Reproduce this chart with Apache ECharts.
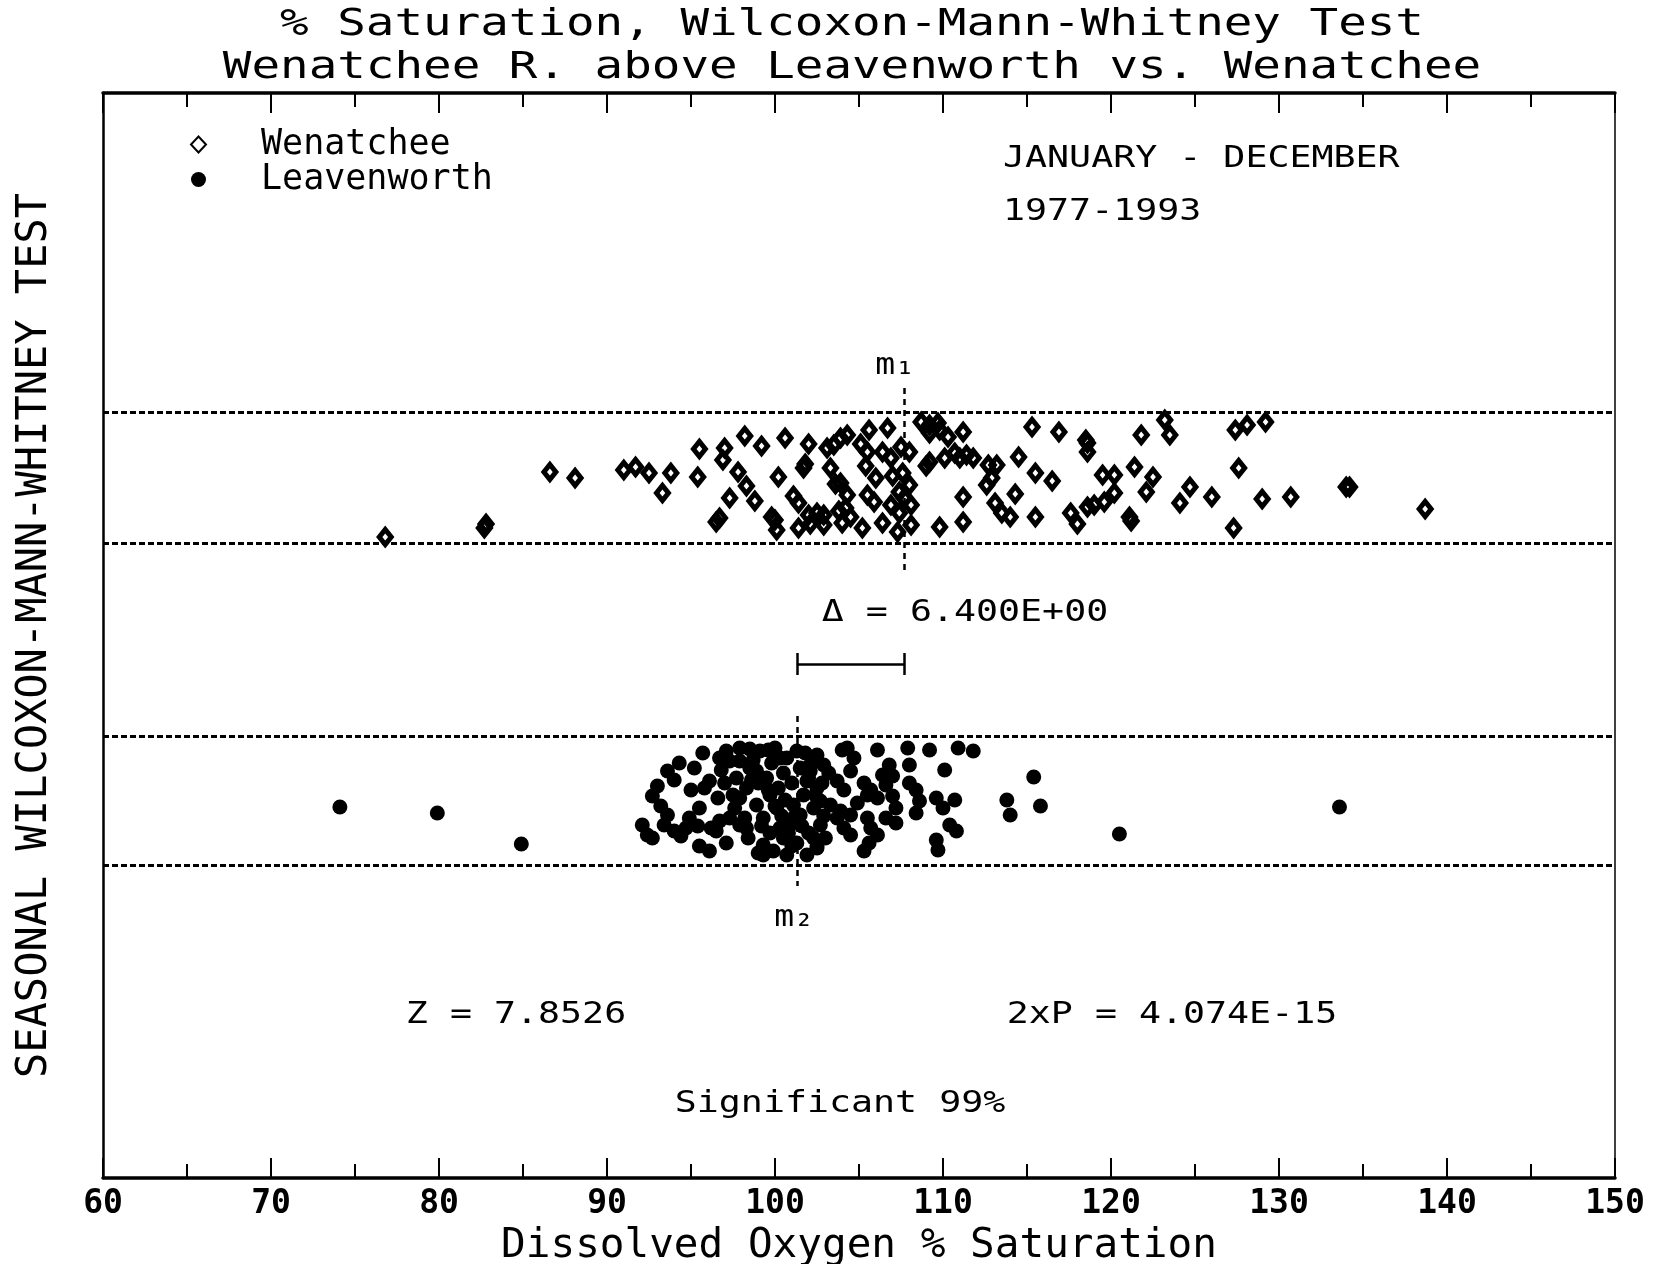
<!DOCTYPE html>
<html>
<head>
<meta charset="utf-8">
<script src="https://cdn.jsdelivr.net/npm/echarts@6/dist/echarts.min.js"></script>
<style>
html,body{margin:0;padding:0;background:#fff;}
#chart{width:1664px;height:1264px;}
</style>
</head>
<body>
<div id="chart"></div>
<script>
// ---------- DATA ----------
// Wenatchee (open diamonds): x = % saturation, y = vertical jitter (arbitrary units, axis 0..1085)
const wenX = [76.8,82.7,82.8,86.6,88.1,91.0,91.7,92.5,93.8,93.3,95.5,95.4,97.0,96.9,98.2,99.2,97.8,98.3,97.3,98.8,96.5,96.7,100.2,100.6,102.0,101.7,101.8,103.3,103.6,101.1,101.4,99.8,100.0,100.1,101.4,102.0,102.5,102.9,102.1,102.9,103.1,103.5,103.9,104.3,103.8,104.2,104.0,105.6,106.7,105.1,105.5,106.4,106.9,108.0,107.5,105.4,106.0,107.0,107.6,108.0,107.4,107.7,108.1,107.4,106.9,105.5,105.9,104.3,104.5,105.2,106.4,107.3,108.1,103.9,109.0,109.2,108.7,109.2,109.7,109.8,109.2,110.3,111.2,110.1,110.7,111.0,111.8,111.4,113.2,112.7,112.9,112.6,111.2,109.8,111.2,113.1,113.5,114.0,114.3,115.3,116.9,114.5,115.5,116.5,115.5,117.6,118.0,118.5,118.6,118.6,119.5,120.2,120.2,119.6,119.0,118.6,121.1,121.2,121.4,121.8,123.2,123.5,122.5,122.1,124.7,124.1,126.0,127.4,128.1,129.2,127.6,129.0,130.7,127.3,134.0,134.2,138.7];
const wenY = [641,650,654,706,700,708,711,705,705,685,729,701,730,718,742,732,706,692,680,677,656,660,701,740,734,710,714,710,694,682,675,661,658,648,650,663,665,663,654,653,730,733,740,743,667,670,655,748,750,734,726,726,720,726,731,712,700,702,705,693,686,680,673,665,673,683,676,683,661,650,655,646,653,695,712,716,756,753,755,748,745,741,746,720,725,720,720,723,713,713,700,693,681,651,656,675,665,661,684,751,746,721,705,697,661,665,654,738,735,726,703,703,685,676,673,671,661,657,711,743,758,743,701,686,691,675,681,748,753,756,710,679,681,650,691,691,669];

// Leavenworth (filled dots)
const leaX = [74.1,79.9,84.9,115.4,115.8,113.8,114.0,120.5,133.6,95.7,97.1,97.9,98.5,99.1,98.7,97.3,96.7,93.6,95.2,96.1,93.0,92.7,95.0,97.7,98.3,97.5,97.9,98.9,99.5,95.5,93.6,93.4,94.0,94.4,94.9,94.7,92.1,92.4,92.7,96.7,97.3,97.9,98.3,96.5,95.5,96.1,97.1,99.3,99.9,99.3,100.3,100.9,100.1,101.1,101.7,100.7,101.3,102.1,101.9,101.5,102.3,102.5,100.7,99.7,99.3,98.9,102.5,102.9,102.1,104.3,104.7,104.5,106.1,107.9,109.2,110.9,111.8,108.0,110.1,106.4,107.0,106.6,108.0,108.4,103.7,104.1,102.5,102.7,102.3,102.7,105.7,106.1,105.5,103.3,103.9,104.5,107.0,107.2,108.6,108.4,109.6,110.0,110.7,103.7,104.1,104.5,105.5,105.7,106.6,107.2,110.4,110.8,109.6,109.7,106.1,105.6,105.3,102.5,100.5,101.0,99.8,102.0,100.5,101.3,99.7,98.5,100.2,101.5,
  99.0,99.6,100.0,100.4,100.8,101.0,101.6,101.2,100.6,102.0,102.4,101.8,100.3,99.6,98.6,98.2,97.6,97.0,96.8,97.9,98.4,99.0,101.9,102.8,103.2,103.0,100.0,99.2,96.2,95.8,94.3,94.0,93.2,96.6,95.4,102.9,104.9,105.3,106.8,104.0];
const leaY = [371,365,334,401,372,378,363,344,371,425,427,430,429,427,418,417,420,407,410,397,392,382,388,400,390,383,380,407,400,370,363,353,347,342,360,350,353,343,340,357,360,353,350,347,332,327,335,333,327,323,350,353,370,373,383,420,427,413,397,363,340,330,323,383,360,373,423,413,407,430,420,407,428,430,428,430,427,413,408,403,402,393,395,388,397,388,390,377,370,353,388,380,383,373,367,363,382,370,377,365,380,370,378,360,350,343,360,350,360,355,353,347,338,328,343,335,327,332,405,395,415,345,340,335,345,410,390,410,
  395,388,372,362,345,332,352,362,378,400,383,425,420,428,398,360,370,395,408,417,340,325,323,395,405,340,430,352,350,390,415,398,372,380,352,362,375,395,413,428];

// band limits (jitter units) and medians
const bandLines = [766, 635, 442, 313];
const m1 = 107.7;   // Wenatchee median
const m2 = 101.3;   // Leavenworth median
const xTicks = [60,70,80,90,100,110,120,130,140,150];

const titleLines = ['% Saturation, Wilcoxon-Mann-Whitney Test', 'Wenatchee R. above Leavenworth vs. Wenatchee'];
const xName = 'Dissolved Oxygen % Saturation';
const yName = 'SEASONAL WILCOXON-MANN-WHITNEY TEST';

// ---------- CHART ----------
const FONT = '"DejaVu Sans Mono", "Liberation Mono", monospace';
const chart = echarts.init(document.getElementById('chart'), null, {renderer:'canvas'});

const wenData = wenX.map((x,i)=>[x, wenY[i]]);
const leaData = leaX.map((x,i)=>[x, leaY[i]]);

const dashed = {color:'#000', width:3, type:[6,3]};
const vdash = {color:'#000', width:2.5, type:[6,5]};
const solid = {color:'#000', width:2.5, type:'solid'};

function txt(x, y, text, size, align, sx){
  return {type:'text', x:x, y:y, scaleX: sx || 1.22, silent:true,
    style:{x:0, y:0, text:text, fill:'#000', font: size+'px '+FONT, align: align||'center', verticalAlign:'middle'}};
}

const axisTickCommon = {show:true, inside:true, length:20, lineStyle:{color:'#000', width:2}};
const minorTickCommon = {show:true, splitNumber:2, length:14, lineStyle:{color:'#000', width:2}};

const option = {
  animation:false,
  backgroundColor:'#fff',
  grid:{left:103, right:49, top:93, bottom:86, containLabel:false, outerBoundsMode:'none'},
  legend:{
    orient:'vertical', left:185, top:122, itemWidth:15, itemHeight:16, itemGap:0,
    selectedMode:false,
    textStyle:{fontFamily:FONT, fontSize:35, color:'#000', lineHeight:34, padding:[0,0,0,50]},
    data:[{name:'Wenatchee', icon:'diamond'},{name:'Leavenworth', icon:'circle'}]
  },
  xAxis:[{
    type:'value', position:'bottom', min:xTicks[0], max:xTicks[xTicks.length-1], interval:10,
    axisLine:{show:true, onZero:false, lineStyle:{color:'#000', width:3.5}},
    axisTick:axisTickCommon, minorTick:minorTickCommon,
    splitLine:{show:false}, minorSplitLine:{show:false},
    axisLabel:{show:true, margin:10, fontFamily:FONT, fontSize:33, fontWeight:'bold', color:'#000'},
    name:xName, nameLocation:'middle', nameGap:39,
    nameTextStyle:{fontFamily:FONT, fontSize:41, color:'#000'}
  },{
    type:'value', position:'top', min:xTicks[0], max:xTicks[xTicks.length-1], interval:10,
    axisLine:{show:true, onZero:false, lineStyle:{color:'#000', width:3.5}},
    axisTick:axisTickCommon, minorTick:minorTickCommon,
    splitLine:{show:false}, minorSplitLine:{show:false},
    axisLabel:{show:false}
  }],
  yAxis:[{
    type:'value', position:'left', min:0, max:1085,
    axisLine:{show:true, onZero:false, lineStyle:{color:'#000', width:2.5}},
    axisTick:{show:false}, axisLabel:{show:false}, splitLine:{show:false},
    name:yName, nameLocation:'middle', nameGap:47, nameRotate:90,
    nameTextStyle:{fontFamily:FONT, fontSize:42, color:'#000'}
  },{
    type:'value', position:'right', min:0, max:1085,
    axisLine:{show:true, onZero:false, lineStyle:{color:'#000', width:1.5}},
    axisTick:{show:false}, axisLabel:{show:false}, splitLine:{show:false}
  }],
  series:[{
    name:'Wenatchee', type:'scatter', symbol:'diamond', symbolSize:[12,15],
    itemStyle:{color:'rgba(0,0,0,0)', borderColor:'#000', borderWidth:5, opacity:1},
    data:wenData,
    markLine:{
      silent:true, symbol:'none', label:{show:false}, animation:false,
      data:[
        {yAxis:bandLines[0], lineStyle:dashed},
        {yAxis:bandLines[1], lineStyle:dashed},
        [{coord:[m1, 790], lineStyle:vdash},{coord:[m1, 608]}]
      ]
    }
  },{
    name:'Leavenworth', type:'scatter', symbol:'circle', symbolSize:15,
    itemStyle:{color:'#000', opacity:1},
    data:leaData,
    markLine:{
      silent:true, symbol:'none', label:{show:false}, animation:false,
      data:[
        {yAxis:bandLines[2], lineStyle:dashed},
        {yAxis:bandLines[3], lineStyle:dashed},
        [{coord:[m2, 462], lineStyle:vdash},{coord:[m2, 292]}],
        [{coord:[m2, 514], lineStyle:solid},{coord:[m1, 514]}],
        [{coord:[m2, 525], lineStyle:solid},{coord:[m2, 503]}],
        [{coord:[m1, 525], lineStyle:solid},{coord:[m1, 503]}]
      ]
    }
  }],
  graphic:[
    txt(852, 25, titleLines[0], 38, 'center', 1.25),
    txt(852, 68, titleLines[1], 38, 'center', 1.25),
    txt(1003, 159, 'JANUARY - DECEMBER', 30, 'left'),
    txt(1003, 212, '1977-1993', 30, 'left'),
    txt(965, 613, '\u0394 = ' + (m1 - m2).toFixed(3) + 'E+00', 30, 'center'),
    txt(895, 366, 'm\u2081', 30, 'center', 1.1),
    txt(794, 918, 'm\u2082', 30, 'center', 1.1),
    txt(516, 1015, 'Z = 7.8526', 30, 'center'),
    txt(1172, 1015, '2xP = 4.074E-15', 30, 'center'),
    txt(840, 1104, 'Significant 99%', 30, 'center')
  ]
};
chart.setOption(option);
</script>
</body>
</html>
